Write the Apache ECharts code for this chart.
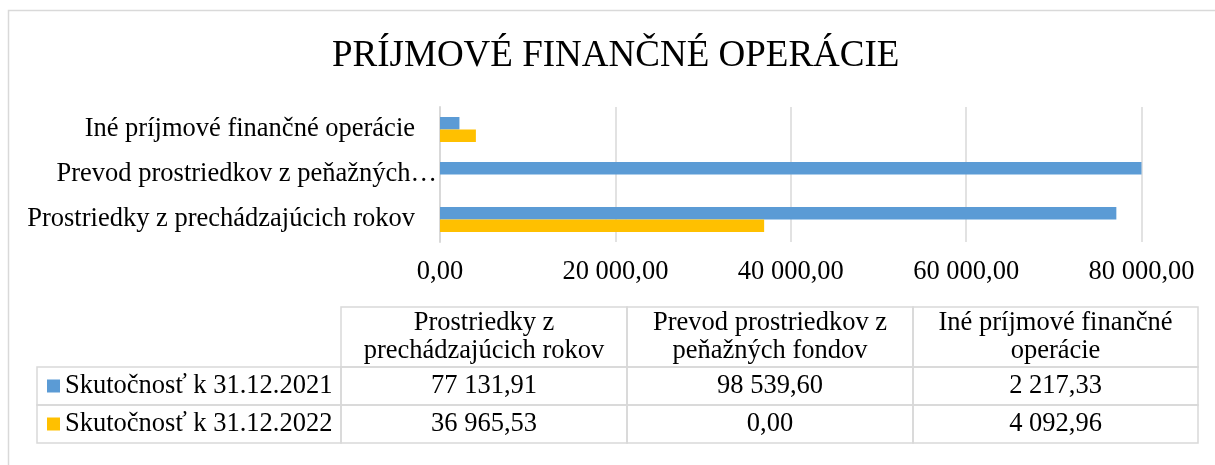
<!DOCTYPE html>
<html lang="sk">
<head>
  <meta charset="UTF-8">
  <title>Príjmové finančné operácie</title>
  <script src="https://cdn.jsdelivr.net/npm/echarts@6/dist/echarts.min.js"></script>
  <style>
    body { margin: 0; background: #fff; }
    #chart { width: 1215px; height: 465px; }
  </style>
</head>
<body>
  <div id="chart"></div>
  <script>
    // data
    const categories = ['Prostriedky z prechádzajúcich rokov', 'Prevod prostriedkov z peňažných fondov', 'Iné príjmové finančné operácie'];
    const yLabels = ['Prostriedky z prechádzajúcich rokov', 'Prevod prostriedkov z peňažných…', 'Iné príjmové finančné operácie'];
    const headLabels = ['Prostriedky z\nprechádzajúcich rokov', 'Prevod prostriedkov z\npeňažných fondov', 'Iné príjmové finančné\noperácie'];
    const seriesNames = ['Skutočnosť k 31.12.2021', 'Skutočnosť k 31.12.2022'];
    const values2021 = [77131.91, 98539.60, 2217.33];
    const values2022 = [36965.53, 0.00, 4092.96];
    const xMin = 0, xMax = 80000, xStep = 20000;

    const colors = ['#5b9bd5', '#ffc000'];
    const font = '"Liberation Serif", "Times New Roman", serif';
    const fs = 26.5;
    const lineCol = '#d9d9d9';

    // 77131.91 -> "77 131,91"
    function fmt(v) {
      const parts = v.toFixed(2).split('.');
      return parts[0].replace(/\B(?=(\d{3})+(?!\d))/g, ' ') + ',' + parts[1];
    }

    // data table below the chart
    const colX = [341, 627, 913, 1198];
    const legLeft = 37;
    const headTop = 307, headH = 60, rowH = 38;
    const tableGraphics = [];

    headLabels.forEach((c, i) => {
      tableGraphics.push({
        type: 'rect',
        shape: { x: colX[i], y: headTop, width: colX[i + 1] - colX[i], height: headH },
        style: { fill: null, stroke: lineCol, lineWidth: 1.5 }
      });
      tableGraphics.push({
        type: 'text',
        x: (colX[i] + colX[i + 1]) / 2,
        y: headTop + headH / 2,
        style: {
          text: c, font: fs + 'px ' + font, fill: '#000', lineHeight: 28,
          align: 'center', verticalAlign: 'middle'
        }
      });
    });

    [values2021, values2022].forEach((vals, r) => {
      const y0 = headTop + headH + r * rowH;
      tableGraphics.push({
        type: 'rect',
        shape: { x: legLeft, y: y0, width: colX[0] - legLeft, height: rowH },
        style: { fill: null, stroke: lineCol, lineWidth: 1.5 }
      });
      tableGraphics.push({
        type: 'rect',
        shape: { x: 47, y: y0 + rowH / 2 - 6.5, width: 13, height: 13 },
        style: { fill: colors[r] }
      });
      tableGraphics.push({
        type: 'text',
        x: 65, y: y0 + rowH / 2,
        style: { text: seriesNames[r], font: fs + 'px ' + font, fill: '#000', align: 'left', verticalAlign: 'middle' }
      });
      vals.forEach((v, i) => {
        tableGraphics.push({
          type: 'rect',
          shape: { x: colX[i], y: y0, width: colX[i + 1] - colX[i], height: rowH },
          style: { fill: null, stroke: lineCol, lineWidth: 1.5 }
        });
        tableGraphics.push({
          type: 'text',
          x: (colX[i] + colX[i + 1]) / 2, y: y0 + rowH / 2,
          style: { text: fmt(v), font: fs + 'px ' + font, fill: '#000', align: 'center', verticalAlign: 'middle' }
        });
      });
    });

    const chart = echarts.init(document.getElementById('chart'));
    chart.setOption({
      animation: false,
      title: {
        text: 'PRÍJMOVÉ FINANČNÉ OPERÁCIE',
        left: 332,
        top: 38,
        padding: 0,
        textStyle: { fontFamily: font, fontSize: 37, fontWeight: 'normal', color: '#000' }
      },
      grid: { left: 440, right: 73.5, top: 107, height: 135, containLabel: false },
      xAxis: {
        type: 'value',
        min: xMin, max: xMax, interval: xStep,
        axisLine: { show: false },
        axisTick: { show: false },
        splitLine: { lineStyle: { color: lineCol, width: 1.5 } },
        axisLabel: {
          margin: 17,
          fontFamily: font, fontSize: fs, color: '#000',
          formatter: v => fmt(v)
        }
      },
      yAxis: {
        type: 'category',
        data: categories,
        axisLine: { lineStyle: { color: lineCol, width: 2 } },
        axisTick: { show: false },
        axisLabel: {
          margin: 3,
          fontFamily: font, fontSize: fs, color: '#000',
          formatter: (v, i) => yLabels[i] === categories[i] ? '{n|' + yLabels[i] + '}' : yLabels[i],
          rich: { n: { fontFamily: font, fontSize: fs, color: '#000', padding: [0, 22, 0, 0] } }
        }
      },
      series: [
        {
          name: seriesNames[0], type: 'bar', data: values2021,
          barWidth: 12.5, barGap: '0%', clip: true,
          itemStyle: { color: colors[0] }
        },
        {
          name: seriesNames[1], type: 'bar', data: values2022,
          barWidth: 12.5, barGap: '0%', clip: true,
          itemStyle: { color: colors[1] }
        }
      ],
      graphic: [
        {
          type: 'rect',
          shape: { x: 8.5, y: 10.5, width: 1260, height: 520 },
          style: { fill: null, stroke: lineCol, lineWidth: 1.5 }
        }
      ].concat(tableGraphics)
    });
  </script>
</body>
</html>
